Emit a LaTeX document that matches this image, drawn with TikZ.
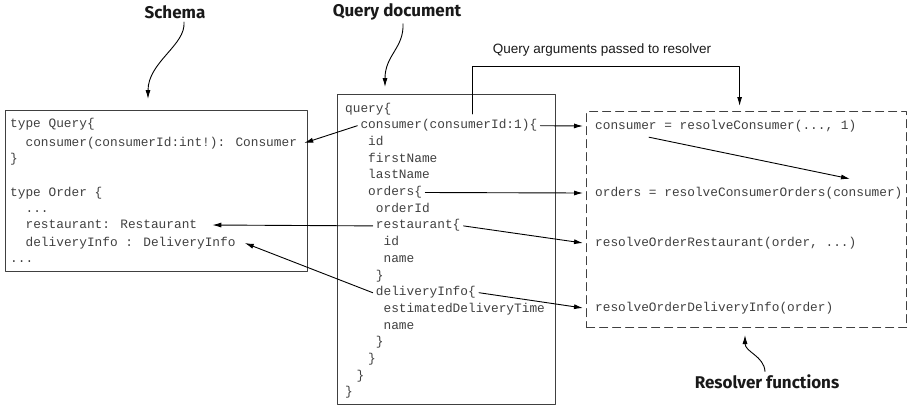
\documentclass[tikz,border=0pt]{standalone}
\usepackage{fontspec}
\setmainfont{Liberation Sans}
\newfontfamily\codefont{Liberation Mono}
\newfontfamily\calloutfont{Fira Sans}
\usetikzlibrary{arrows.meta, calc}

\begin{document}
\begin{tikzpicture}[x=1pt, y=-1pt, >={Latex[length=9pt,width=5pt]}, line cap=round, line join=round,
	code/.style={font=\codefont\fontsize{12.8}{15}\selectfont, text=black!75, anchor=base west,
		inner xsep=3pt, inner ysep=0pt, text height=9pt, text depth=3pt},
	rcode/.style={code, inner xsep=12pt},
	box/.style={draw=black!75, line width=1.2pt, anchor=north west, inner sep=0pt},
	callout/.style={font=\calloutfont\bfseries\fontsize{17}{20}\selectfont, text=black!90},
	arr/.style={->, line width=0.9pt}]
	
	\useasboundingbox (0,0) rectangle (913,410);
	
	% ===============================
	% ========== BOXES ==============
	% ===============================
	\node[box, minimum width=302, minimum height=161] (schema) at (5,110) {};
	\node[box, minimum width=218, minimum height=310] (query) at (337,94) {};
	\node[box, dash pattern=on 8pt off 5pt, minimum width=320, minimum height=216] (resolver) at (586,111) {};
	
	% ---- schema text ----
	\node[code] (sc1) at (7,127) {type Query\{};
	\node[code] (sc2) at (22.4,146) {consumer(consumerId:int!): Consumer};
	\node[code] (sc3) at (7,162) {\}};
	\node[code] (sc4) at (7,196) {type Order \{};
	\node[code] (sc5) at (22.4,212) {...};
	\node[code] (sc6) at (22.4,228) {restaurant: Restaurant};
	\node[code] (sc7) at (22.4,246) {deliveryInfo : DeliveryInfo};
	\node[code] (sc8) at (7,262) {...};
	
	% ---- query document, one node per line (text/indent) ----
	\foreach \txt/\ind [count=\i] in {query\{/0, consumer(consumerId:1)\{/2, id/3, firstName/3,
		lastName/3, orders\{/3, orderId/4, restaurant\{/4, id/5, name/5, \}/4, deliveryInfo\{/4,
		estimatedDeliveryTime/5, name/5, \}/4, \}/3, \}/1.5, \}/0}
	\node[code] (q\i) at ({342+\ind*7.68}, {95.3+\i*16.7}) {\txt};
	
	% ---- resolver functions ----
	\node[rcode] (r1) at (583,129) {consumer = resolveConsumer(..., 1)};
	\node[rcode] (r2) at (583,196) {orders = resolveConsumerOrders(consumer)};
	\node[rcode] (r3) at (583,246) {resolveOrderRestaurant(order, ...)};
	\node[rcode] (r4) at (583,311) {resolveOrderDeliveryInfo(order)};
	
	% ---- callouts ----
	\node[callout] (lblschema) at (175,12) {Schema};
	\node[callout] (lblquery) at (397,12) {Query document};
	\node[callout] (lblresolver) at (767,382) {Resolver functions};
	\node[font=\fontsize{13.5}{16}\selectfont, text=black!90] (lblargs) at (602,50) {Query arguments passed to resolver};
	
	% ===============================
	% ========= CONNECTORS ==========
	% ===============================
	% query fields -> resolvers
	\draw[arr] (q2.east) -- (r1.west);
	\draw[arr] (q6.east) -- (r2.west);
	\draw[arr] (q8.east) -- (r3.west);
	\draw[arr] (q12.east) -- (r4.west);
	
	% query fields -> schema types
	\draw[arr] (q2.west) -- ([xshift=4pt]sc2.east);
	\draw[arr] (q8.west) -- ([xshift=12pt]sc6.east);
	\draw[arr] (q12.west) -- ([xshift=6pt]sc7.east);
	
	% consumer result passed on
	\draw[arr] ([xshift=66pt,yshift=-5pt]r1.south west) -- ([xshift=267pt,yshift=8pt]r2.north west);
	
	% query arguments
	\coordinate (argstart) at (472,114);
	\draw[arr, shorten >=5pt] (argstart) -- ++(0,-48) -| ([xshift=-7pt]resolver.north);
	
	% wavy callout arrows
	\coordinate (schematip) at (148,99);
	\coordinate (querytip) at (385,87);
	\coordinate (resolvertip) at (745,335);
	\draw[arr] ([xshift=9pt]lblschema.south) .. controls (186,45) and (148,62) .. (schematip);
	\draw[arr] ([xshift=6pt]lblquery.south) .. controls (404,48) and (385,55) .. (querytip);
	\draw[arr] ([xshift=-2pt]lblresolver.north) .. controls (764,356) and (745,352) .. (resolvertip);
	
\end{tikzpicture}
\end{document}
